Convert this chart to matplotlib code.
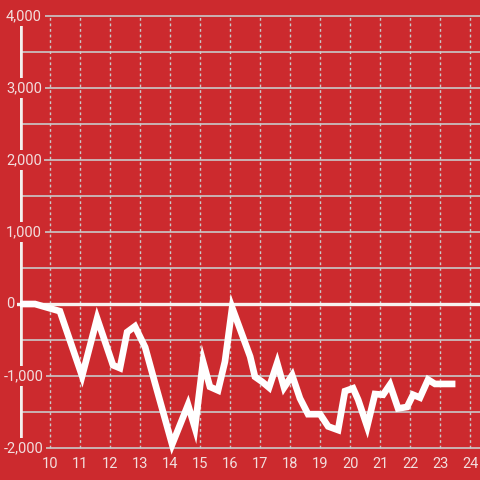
import matplotlib.pyplot as plt

# values
x = [9.0, 9.5, 10.33, 11.07, 11.57, 12.1, 12.33, 12.57, 12.83, 13.17, 13.5,
     14.07, 14.6, 14.83, 15.1, 15.33, 15.6, 15.83, 16.07, 16.67, 16.83, 17.07,
     17.3, 17.57, 17.8, 18.07, 18.33, 18.6, 19.0, 19.27, 19.6, 19.83, 20.1,
     20.27, 20.57, 20.83, 21.1, 21.33, 21.6, 21.9, 22.1, 22.33, 22.6, 22.83,
     23.4]
y = [0, 0, -100, -1000, -200, -850, -890, -390, -310, -600, -1100,
     -1950, -1400, -1720, -800, -1150, -1200, -800, -50, -730, -1010, -1080,
     -1160, -820, -1160, -990, -1310, -1530, -1530, -1700, -1750, -1210, -1170,
     -1330, -1700, -1250, -1260, -1120, -1450, -1430, -1260, -1300, -1050, -1110,
     -1110]

x_ticks = list(range(10, 25))
y_ticks = [-2000, -1000, 0, 1000, 2000, 3000, 4000]
y_grid = [-2000, -1500, -1000, -500, 500, 1000, 1500, 2000, 2500, 3000, 3500, 4000]

red = '#cc2a2e'
grid = '#c9c9c9'
label_col = '#f2dede'

plt.rcParams['font.family'] = ['Roboto', 'DejaVu Sans']

fig = plt.figure(figsize=(4.8, 4.8), dpi=100, facecolor=red)
ax = fig.add_axes([20 / 480, 0, 460 / 480, 1])
ax.set_facecolor(red)
ax.set_xlim(9, 24.33)
ax.set_ylim(-2444, 4222)
ax.axis('off')

for g in y_grid:
    ax.axhline(g, color=grid, lw=1.2, zorder=1)
ax.vlines(x_ticks, -2000, 4000, colors=grid, linestyles=(0, (2, 2)), lw=1.0, zorder=1)

ax.vlines(9.03, -2000, 4000, colors='#f4f0ee', lw=2.6, zorder=3)
ax.axhline(0, xmin=-0.007, color='#f7f2f0', lw=2.4, zorder=3, clip_on=False)

ax.plot(x, y, color='white', lw=4.8, solid_joinstyle='miter', zorder=4)

for t in y_ticks:
    # left aligned, minus sign hangs out to the left
    xpos = 8.45 if t < 0 else 8.53
    ax.text(xpos, t, f'{t:,}', ha='left', va='center', fontsize=10.5,
            color=label_col, zorder=5, clip_on=False,
            bbox=dict(facecolor=red, edgecolor='none', pad=2.0))
for t in x_ticks:
    ax.text(t, -2220, str(t), ha='center', va='center', fontsize=10.5,
            color=label_col, zorder=5)

fig.savefig('out.png', dpi=100, facecolor=red)
